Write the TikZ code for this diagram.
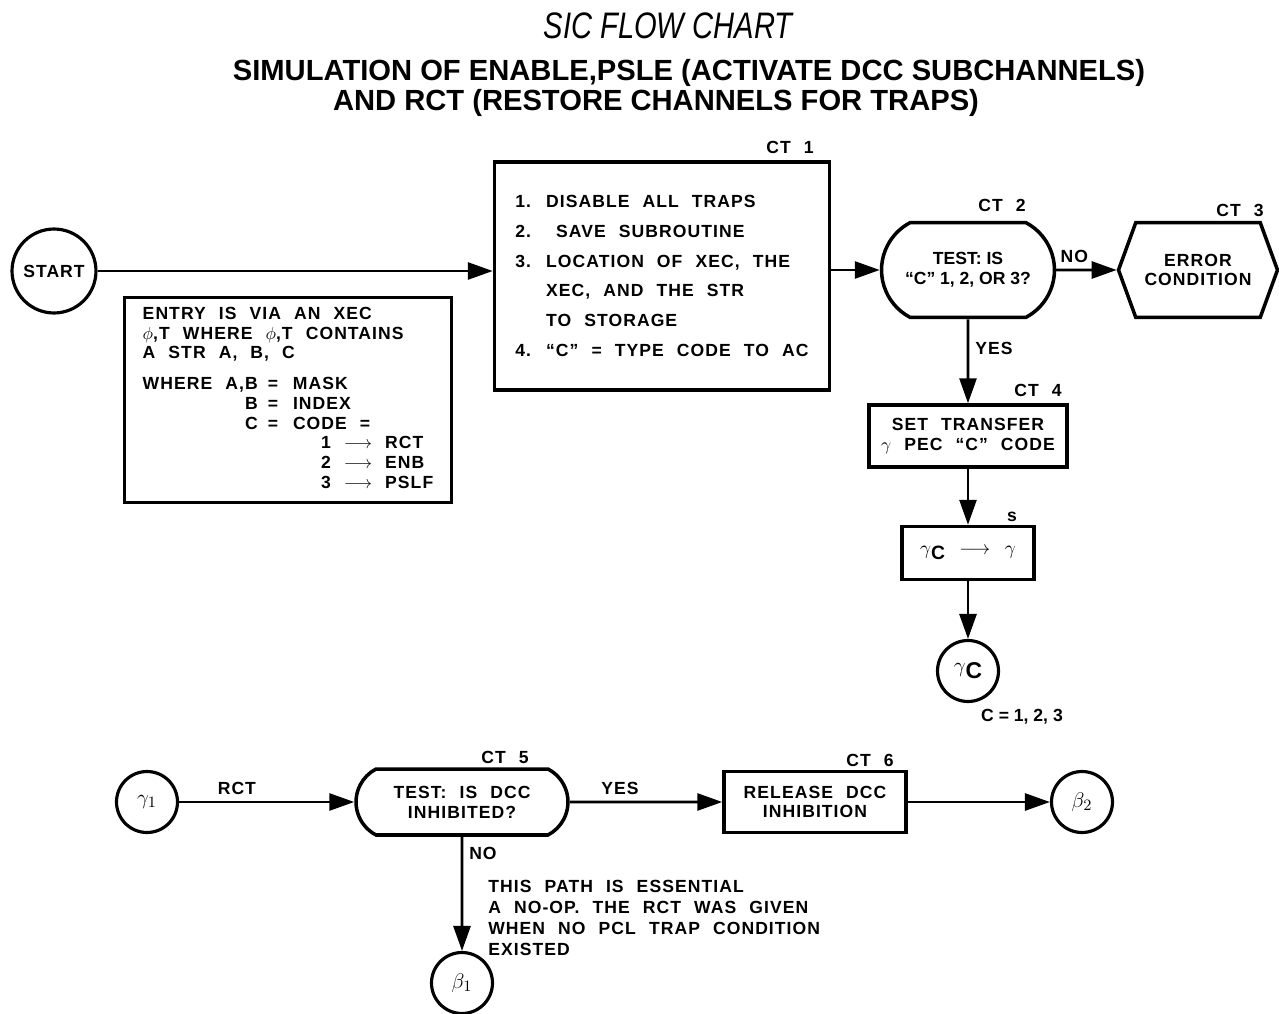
\documentclass[tikz,border=0pt]{standalone}
\usepackage{fontspec}
\newfontfamily\plainfont{Liberation Sans}[Ligatures=TeX]
\setmainfont{Liberation Sans}[LetterSpace=6, WordSpace=2.2]
\usetikzlibrary{arrows.meta,shapes.misc,shapes.symbols,positioning}
\newcommand{\lowsub}[1]{\raisebox{-0.5ex}{#1}}

\begin{document}
\begin{tikzpicture}[x=0.02cm, y=-0.02cm, >={Triangle[length=0.5cm,width=0.34cm]},
    every node/.style={font=\bfseries\fontsize{10}{11.3}\selectfont},
    line/.style={line width=1.6pt},
    proc/.style={draw, line width=2pt, rectangle, inner sep=0pt, align=center},
    test/.style={draw, line width=2pt, rounded rectangle, rounded rectangle arc length=125, inner sep=0pt, align=center},
    conn/.style={draw, line width=1.8pt, circle, inner sep=0pt, minimum size=1.22cm, font=\bfseries\fontsize{13}{14}\selectfont},
    tag/.style={inner sep=0pt}]
    \useasboundingbox (0,0) rectangle (1279,1014);

    % Titles
    \node[font=\plainfont\fontsize{21}{24}\selectfont\itshape] (title) at (668,26) {\scalebox{0.79}[1]{SIC FLOW CHART}};
    \node[font=\plainfont\bfseries\fontsize{16.6}{18}\selectfont] (sub1) at (689,73) {SIMULATION OF ENABLE,PSLE (ACTIVATE DCC SUBCHANNELS)};
    \node[font=\plainfont\bfseries\fontsize{16.6}{18}\selectfont] (sub2) at (656,103) {AND RCT (RESTORE CHANNELS FOR TRAPS)};

    % Entry and CT 1
    \node[conn, minimum size=1.68cm, font=\bfseries\fontsize{10}{11.3}\selectfont] (start) at (54,271) {START};
    \node[proc, minimum width=6.54cm, minimum height=4.1cm] (entry) at (288,400) {%
      \begin{tabular}{@{}r@{\hspace{0.2cm}}c@{\hspace{0.3cm}}l@{}}
        \multicolumn{3}{@{}l@{}}{ENTRY IS VIA AN XEC}\\
        \multicolumn{3}{@{}l@{}}{$\phi$,T WHERE $\phi$,T CONTAINS}\\
        \multicolumn{3}{@{}l@{}}{A STR A, B, C}\\[6pt]
        WHERE A,B & = & MASK\\
        B & = & INDEX\\
        C & = & CODE =\\
          &   & \hspace{0.56cm}1 $\longrightarrow$ RCT\\
          &   & \hspace{0.56cm}2 $\longrightarrow$ ENB\\
          &   & \hspace{0.56cm}3 $\longrightarrow$ PSLF
      \end{tabular}};
    \node[proc, minimum width=6.7cm, minimum height=4.56cm, font=\bfseries\fontsize{10}{17}\selectfont] (ct1) at (662,276) {%
      \raisebox{0.14cm}{\begin{tabular}{@{}l@{\hspace{0.3cm}}l@{}}
        1. & DISABLE ALL TRAPS\\
        2. & \hspace{0.2cm}SAVE SUBROUTINE\\
        3. & LOCATION OF XEC, THE\\
           & XEC, AND THE STR\\
           & TO STORAGE\\
        4. & ``C'' = TYPE CODE TO AC
      \end{tabular}}};
    \node[tag] (ct1lbl) at (790,147) {CT 1};

    % CT 2 to CT 4
    \node[test, minimum width=3.46cm, minimum height=1.9cm, font=\plainfont\bfseries\fontsize{10}{11.3}\selectfont] (ct2) at (968,270) {TEST: IS\\“C” 1, 2, OR 3?};
    \node[tag] (ct2lbl) at (1002,205) {CT 2};
    \node[draw, line width=2pt, signal, signal to=west and east, signal pointer angle=140,
          minimum width=3.18cm, minimum height=1.9cm, inner sep=0pt, align=center] (ct3) at (1198,270) {ERROR\\CONDITION};
    \node[tag] (ct3lbl) at (1240,210) {CT 3};
    \node[proc, minimum width=3.96cm, minimum height=1.24cm] (ct4) at (968,436) {SET TRANSFER\\$\gamma$ PEC ``C'' CODE};
    \node[tag] (ct4lbl) at (1038,390) {CT 4};
    \node[proc, minimum width=2.64cm, minimum height=1.06cm, font=\bfseries\fontsize{11}{12}\selectfont] (sbox) at (968,553) {$\gamma$\lowsub{C} $\longrightarrow$ $\gamma$};
    \node[tag] (slbl) at (1012,517) {s};
    \node[conn] (gc) at (968,671) {$\gamma$\lowsub{C}};
    \node[tag, font=\plainfont\bfseries\fontsize{10}{11.3}\selectfont] (crange) at (1022,717) {C = 1, 2, 3};

    \draw[->, line] (start) -- (start -| ct1.west);
    \draw[->, line] (ct2 -| ct1.east) -- (ct2);
    \draw[->, line] (ct2) -- node[pos=0.3, above] (no1) {NO} (ct3);
    \draw[->, line] (ct2) -- node[pos=0.35, right] (yes1) {YES} (ct4);
    \draw[->, line] (ct4) -- (sbox);
    \draw[->, line] (sbox) -- (gc);

    % RCT path
    \node[conn] (g1) at (147,802) {$\gamma_1$};
    \node[test, minimum width=4.24cm, minimum height=1.32cm] (ct5) at (462,802) {TEST: IS DCC\\INHIBITED?};
    \node[tag] (ct5lbl) at (505,757) {CT 5};
    \node[proc, minimum width=3.64cm, minimum height=1.22cm] (ct6) at (815,802) {RELEASE DCC\\INHIBITION};
    \node[tag] (ct6lbl) at (870,760) {CT 6};
    \node[conn] (b2) at (1082,802) {$\beta_2$};
    \node[conn] (b1) at (462,983) {$\beta_1$};
    \node[anchor=north west, align=left, inner sep=0pt, font=\bfseries\fontsize{10}{11.9}\selectfont] (remark) at (488,880)
      {THIS PATH IS ESSENTIAL\\A NO-OP. THE RCT WAS GIVEN\\WHEN NO PCL TRAP CONDITION\\EXISTED};

    \draw[->, line] (g1) -- node[pos=0.33, above] (rct) {RCT} (ct5);
    \draw[->, line] (ct5) -- node[pos=0.33, above] (yes2) {YES} (ct6);
    \draw[->, line] (ct6) -- (b2);
    \draw[->, line] (ct5) -- node[pos=0.15, right] (no2) {NO} (b1);
\end{tikzpicture}
\end{document}
